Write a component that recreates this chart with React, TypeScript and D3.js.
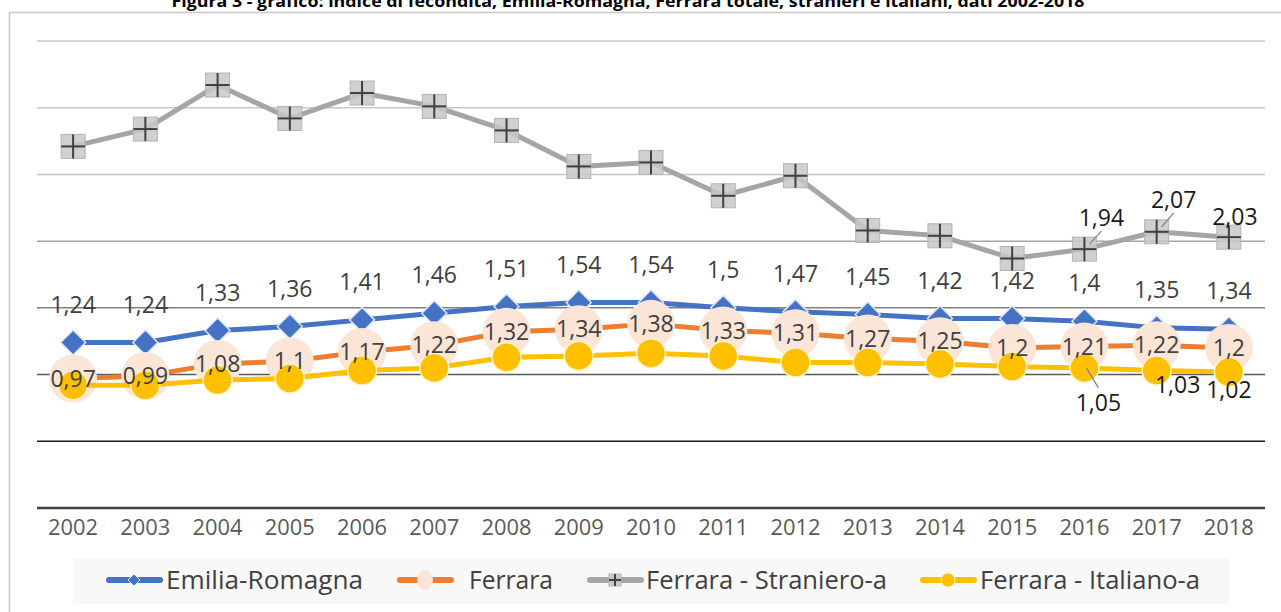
import React from 'react';
import * as d3 from 'd3';

const TITLE = 'Figura 3 - grafico: indice di fecondità, Emilia-Romagna, Ferrara totale, stranieri e italiani, dati 2002-2018';
const years = ['2002','2003','2004','2005','2006','2007','2008','2009','2010','2011','2012','2013','2014','2015','2016','2017','2018'];
const emilia = [1.24,1.24,1.33,1.36,1.41,1.46,1.51,1.54,1.54,1.5,1.47,1.45,1.42,1.42,1.4,1.35,1.34];
const ferrara = [0.97,0.99,1.08,1.1,1.17,1.22,1.32,1.34,1.38,1.33,1.31,1.27,1.25,1.2,1.21,1.22,1.2];
const stranieri = [2.71,2.84,3.17,2.92,3.11,3.01,2.83,2.56,2.59,2.34,2.49,2.08,2.04,1.87,1.94,2.07,2.03];
const italiani = [0.92,0.92,0.96,0.97,1.03,1.05,1.13,1.14,1.16,1.14,1.09,1.09,1.08,1.06,1.05,1.03,1.02];
const yTicks = [0,0.5,1,1.5,2,2.5,3,3.5];
const seriesNames = ['Emilia-Romagna','Ferrara','Ferrara - Straniero-a','Ferrara - Italiano-a'];

// label placement for the few labelled points (index, dx, dy, leader)
const strLabels = [
  { i: 14, dx: 17, dy: -31, leader: true },
  { i: 15, dx: 17, dy: -32, leader: true },
  { i: 16, dx: 6, dy: -20, leader: false },
];
const itaLabels = [
  { i: 14, dx: 14, dy: 35, leader: true },
  { i: 15, dx: 21, dy: 14, leader: false },
  { i: 16, dx: 0, dy: 18, leader: false },
];

const fmt = (v: number) => String(v).replace('.', ',');
const FONT = '"Open Sans", "DejaVu Sans", sans-serif';

const gridColors = ['#404040', '#1a1a1a', '#5a5a5a', '#808080', '#a6a6a6', '#c4c4c4', '#c8c8c8', '#c8c8c8'];

export default function App() {
  const W = 1281, H = 612;
  const x = d3.scaleBand<string>().domain(years).range([37, 1265]);
  const cx = (i: number) => (x(years[i]) as number) + x.bandwidth() / 2;
  const y = d3.scaleLinear().domain([0, 3.5]).range([508, 41]);
  const line = (vals: number[]) =>
    d3.line<number>().x((_, i) => cx(i)).y((v) => y(v))(vals) as string;

  const diamond = (px: number, py: number, r: number) =>
    `M${px},${py - r}L${px + r},${py}L${px},${py + r}L${px - r},${py}Z`;

  const strMarker = (px: number, py: number, s: number, key: any) => (
    <g key={key}>
      <rect x={px - s} y={py - s} width={2 * s} height={2 * s} fill="#c8c8c8" fillOpacity={0.85} stroke="#b4b4b4" strokeWidth={1} />
      <line x1={px - s} x2={px + s} y1={py} y2={py} stroke="#404040" strokeWidth={2} />
      <line x1={px} x2={px} y1={py - s} y2={py + s} stroke="#404040" strokeWidth={2} />
    </g>
  );

  const legendItems = [
    { x0: 106, tx: 166 },
    { x0: 397, tx: 469 },
    { x0: 587, tx: 646 },
    { x0: 920, tx: 980 },
  ];

  return (
    <svg width={W} height={H} style={{ position: 'absolute', left: 0, top: 0, background: '#fff' }} fontFamily={FONT}>
      <rect x={0} y={0} width={W} height={H} fill="#fff" />
      <text x={628} y={7} textAnchor="middle" fontSize={16} fontWeight="bold" fill="#000" textLength={913} lengthAdjust="spacingAndGlyphs">{TITLE}</text>
      <path d={`M9.5,${H}V12.5H${W}`} fill="none" stroke="#c8c8c8" strokeWidth={1.5} />

      {yTicks.map((t, k) => (
        <line key={t} x1={37} x2={1265} y1={y(t)} y2={y(t)} stroke={gridColors[k]} strokeWidth={k === 0 ? 2.5 : 1.5} />
      ))}

      {years.map((yr, i) => (
        <text key={yr} x={cx(i)} y={535} textAnchor="middle" fontSize={21} fill="#595959" textLength={50} lengthAdjust="spacingAndGlyphs">{yr}</text>
      ))}

      {/* Emilia-Romagna */}
      <path d={line(emilia)} fill="none" stroke="#4472c4" strokeWidth={5} strokeLinejoin="round" />
      {emilia.map((v, i) => (
        <path key={i} d={diamond(cx(i), y(v), 12.5)} fill="#4472c4" stroke="#dde6f5" strokeWidth={1.5} />
      ))}

      {/* Ferrara */}
      <path d={line(ferrara)} fill="none" stroke="#ed7d31" strokeWidth={5} strokeLinejoin="round" />
      {ferrara.map((v, i) => (
        <circle key={i} cx={cx(i)} cy={y(v)} r={24} fill="#fbe5d6" />
      ))}

      {/* Stranieri */}
      <path d={line(stranieri)} fill="none" stroke="#a5a5a5" strokeWidth={5} strokeLinejoin="round" />
      {stranieri.map((v, i) => strMarker(cx(i), y(v), 12, i))}

      {/* Italiani */}
      <path d={line(italiani)} fill="none" stroke="#ffc000" strokeWidth={5} strokeLinejoin="round" />
      {italiani.map((v, i) => (
        <circle key={i} cx={cx(i)} cy={y(v)} r={14.5} fill="#ffc000" stroke="#fff2cc" strokeWidth={1.5} />
      ))}

      {/* labels */}
      {emilia.map((v, i) => (
        <text key={'e' + i} x={cx(i)} y={y(v) - 38 + 8} textAnchor="middle" fontSize={23} fill="#404040">{fmt(v)}</text>
      ))}
      {ferrara.map((v, i) => (
        <text key={'f' + i} x={cx(i)} y={y(v) + 8} textAnchor="middle" fontSize={23} fill="#404040">{fmt(v)}</text>
      ))}
      {strLabels.map((l) => {
        const px = cx(l.i), py = y(stranieri[l.i]);
        return (
          <g key={'s' + l.i}>
            {l.leader && <line x1={px + 5} y1={py - 5} x2={px + l.dx} y2={py + l.dy + 13} stroke="#7f7f7f" strokeWidth={1.2} />}
            <text x={px + l.dx} y={py + l.dy + 8} textAnchor="middle" fontSize={23} fill="#1a1a1a">{fmt(stranieri[l.i])}</text>
          </g>
        );
      })}
      {itaLabels.map((l) => {
        const px = cx(l.i), py = y(italiani[l.i]);
        return (
          <g key={'it' + l.i}>
            {l.leader && <line x1={px + 2} y1={py} x2={px + l.dx} y2={py + l.dy - 15} stroke="#7f7f7f" strokeWidth={1.2} />}
            <text x={px + l.dx} y={py + l.dy + 8} textAnchor="middle" fontSize={23} fill="#1a1a1a">{fmt(italiani[l.i])}</text>
          </g>
        );
      })}

      {/* legend */}
      <rect x={73} y={558} width={1156} height={46} fill="#f8f8f8" />
      {legendItems.map((it, k) => {
        const my = 580;
        const mx = it.x0 + 28;
        const colors = ['#4472c4', '#ed7d31', '#a5a5a5', '#ffc000'];
        const lens = [197, 84, 241, 220];
        return (
          <g key={k}>
            <line x1={it.x0 + 3} x2={it.x0 + 54} y1={my} y2={my} stroke={colors[k]} strokeWidth={6} strokeLinecap="round" />
            {k === 0 && <path d={diamond(mx, my, 6)} fill="#4472c4" stroke="#dde6f5" strokeWidth={1} />}
            {k === 1 && <ellipse cx={mx} cy={my} rx={8} ry={10} fill="#fbe5d6" />}
            {k === 2 && strMarker(mx, my, 6, 'lg')}
            {k === 3 && <circle cx={mx} cy={my} r={7} fill="#ffc000" stroke="#fff2cc" strokeWidth={1} />}
            <text x={it.tx} y={589} fontSize={25} fill="#404040" textLength={lens[k]} lengthAdjust="spacingAndGlyphs">{seriesNames[k]}</text>
          </g>
        );
      })}
    </svg>
  );
}
